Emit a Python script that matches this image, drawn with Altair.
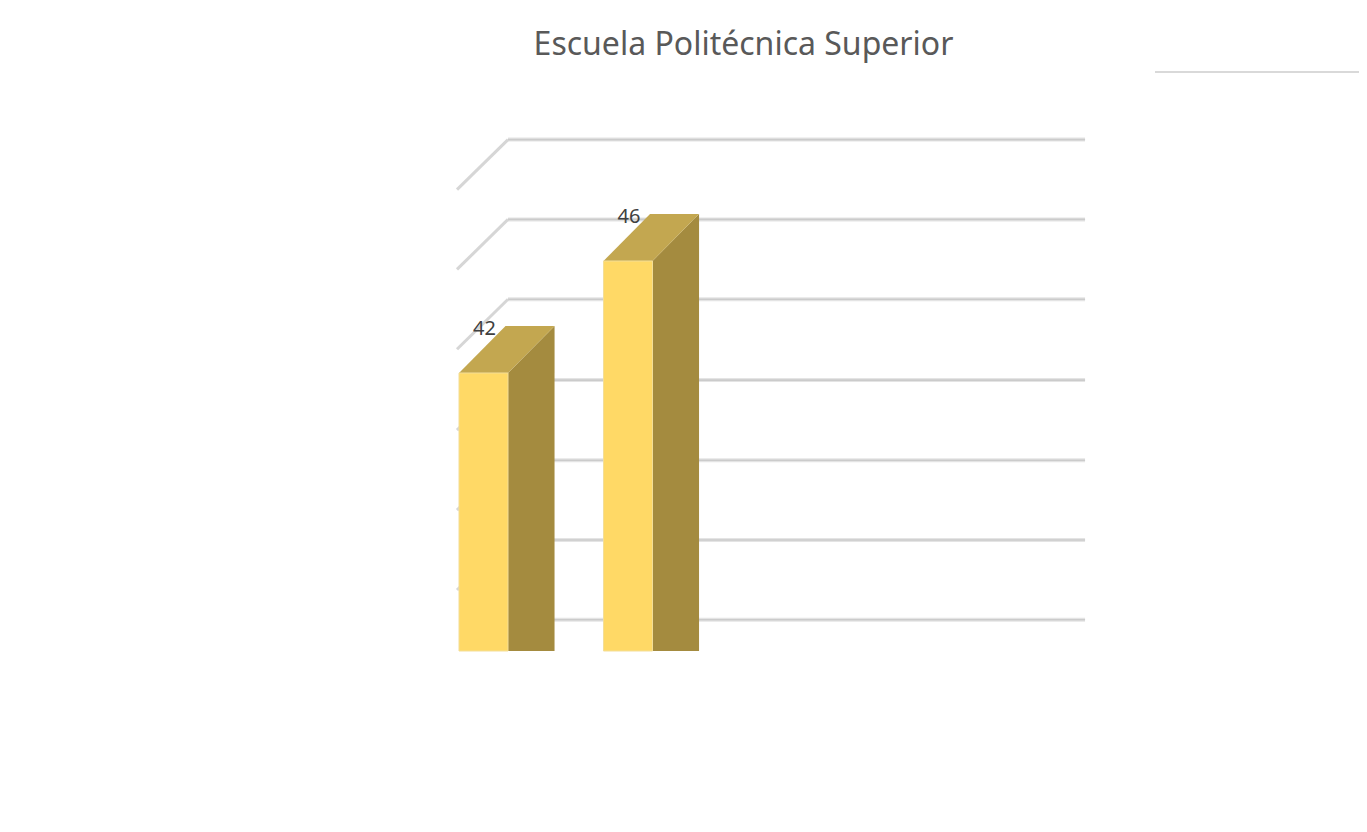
import altair as alt
import pandas as pd

# ---- data ----
bar_pos = [0, 1]                 # category slots that carry a bar
bar_values = [42, 46]
bar_labels = ["42", "46"]
grid_levels = [31.4, 34.25, 37.1, 39.96, 42.85, 45.7, 48.55]

# ---- 3-D styling constants (in scale units) ----
HW = 0.1696        # half bar width
BDX = 0.322        # bar depth (x)
BDY = 1.68         # bar depth (y)
WALL_FRONT_X = -0.1834
WALL_BACK_X = 0.1696
WALL_RIGHT_X = 4.163
WALL_DY = 1.786
BASE = 32.07

xs = alt.Scale(domain=[-3.2907, 6.0588], nice=False, zero=False)
ys = alt.Scale(domain=[32.07, 52.18], nice=False, zero=False)

front = pd.DataFrame({"bar": bar_pos, "v": bar_values})
front["x1"] = front["bar"] - HW
front["x2"] = front["bar"] + HW
front["base"] = BASE

side_rows, top_rows = [], []
for p, v in zip(bar_pos, bar_values):
    side_rows.append({"bar": p, "x": p + HW, "top": v, "base": BASE})
    side_rows.append({"bar": p, "x": p + HW + BDX, "top": v + BDY, "base": BASE})
    top_rows.append({"bar": p, "y": v, "xl": p - HW, "xr": p + HW})
    top_rows.append({"bar": p, "y": v + BDY, "xl": p - HW + BDX, "xr": p + HW + BDX})
side = pd.DataFrame(side_rows)
topf = pd.DataFrame(top_rows)

grid = pd.DataFrame({"L": grid_levels})
grid["yb"] = grid["L"] + WALL_DY
grid["xf"] = WALL_FRONT_X
grid["xb"] = WALL_BACK_X
grid["xr"] = WALL_RIGHT_X

labels = pd.DataFrame({"bar": bar_pos, "v": bar_values, "t": bar_labels})

back_halo = alt.Chart(grid).mark_rule(color="#E4E4E4", strokeWidth=4).encode(
    x=alt.X("xb:Q", scale=xs, axis=None), x2="xr:Q",
    y=alt.Y("yb:Q", scale=ys, axis=None))
back_line = alt.Chart(grid).mark_rule(color="#CBCBCB", strokeWidth=1.6).encode(
    x=alt.X("xb:Q", scale=xs, axis=None), x2="xr:Q",
    y=alt.Y("yb:Q", scale=ys, axis=None))
diag = alt.Chart(grid).mark_rule(color="#D6D6D6", strokeWidth=3, clip=True).encode(
    x=alt.X("xf:Q", scale=xs, axis=None), x2="xb:Q",
    y=alt.Y("L:Q", scale=ys, axis=None), y2="yb:Q")

front_m = alt.Chart(front).mark_rect(color="#FFD966", stroke="#F3DE98", strokeWidth=1).encode(
    x=alt.X("x1:Q", scale=xs, axis=None), x2="x2:Q",
    y=alt.Y("v:Q", scale=ys, axis=None), y2="base:Q")

side_m = alt.Chart(side).mark_area(color="#A48B3F", line=False).encode(
    x=alt.X("x:Q", scale=xs, axis=None),
    y=alt.Y("top:Q", scale=ys, axis=None), y2="base:Q",
    detail="bar:N")

top_m = alt.Chart(topf).mark_area(color="#C3A750", orient="horizontal").encode(
    y=alt.Y("y:Q", scale=ys, axis=None),
    x=alt.X("xl:Q", scale=xs, axis=None), x2="xr:Q",
    detail="bar:N")

text_m = alt.Chart(labels).mark_text(fontSize=20, color="#404040", font="Noto Sans",
                                     baseline="middle", dy=-44, dx=1).encode(
    x=alt.X("bar:Q", scale=xs, axis=None),
    y=alt.Y("v:Q", scale=ys, axis=None),
    text="t:N")

stray = alt.Chart(pd.DataFrame({"k": [0]})).mark_rule(color="#D9D9D9", strokeWidth=2).encode(
    x=alt.value(1147), x2=alt.value(1351), y=alt.value(-16))

chart = alt.layer(back_halo, back_line, diag, side_m, top_m, front_m, text_m, stray).properties(
    width=1351, height=563,
    autosize="none",
    padding={"left": 0, "top": 80, "right": 0, "bottom": 173},
    title=alt.TitleParams("Escuela Politécnica Superior", fontSize=32, font="Noto Sans",
                          color="#595959", fontWeight="normal", anchor="middle",
                          dx=60, offset=-16, baseline="alphabetic"),
).configure_view(stroke=None)

chart.save("out.html", embed_options={"renderer": "svg", "actions": False})
